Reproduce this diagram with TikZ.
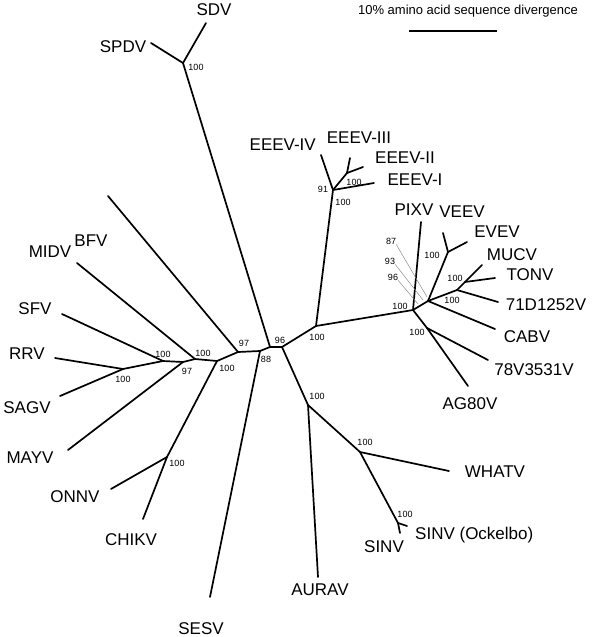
\documentclass[tikz,border=0pt]{standalone}
\usepackage{fontspec}
\setmainfont{Liberation Sans}
\usetikzlibrary{positioning}

\begin{document}
\begin{tikzpicture}[x=1pt, y=-1pt,
  branch/.style={line width=1.7pt, line cap=round, line join=round},
  leader/.style={black!45, line width=0.5pt},
  taxon/.style={inner sep=0pt, font=\fontsize{17}{17}\selectfont},
  boot/.style={inner sep=0pt, font=\fontsize{9}{9}\selectfont}]

\useasboundingbox (0,0) rectangle (592,637);

% Scale bar
\node[inner sep=0pt, font=\fontsize{13}{13}\selectfont, anchor=east] (scaletext) at (578,11) {10\% amino acid sequence divergence};
\coordinate (barL) at (409,31);
\coordinate (barR) at (497,31);
\draw[line width=1.2pt] (barL) -- (barR);

% Internal nodes
\coordinate (sd) at (183,63);
\coordinate (nA) at (238,352);
\coordinate (nB) at (260,351);
\coordinate (nC) at (270,347);
\coordinate (nD) at (282,347);
\coordinate (nE) at (217,361);
\coordinate (midv) at (195,359);
\coordinate (mayv) at (183,362);
\coordinate (sfv) at (163,361);
\coordinate (rrv) at (123,369);
\coordinate (chik) at (167,457);
\coordinate (ev) at (316,326);
\coordinate (eee) at (333,190);
\coordinate (eee2) at (347,173);
\coordinate (vee) at (413,310);
\coordinate (vc) at (428,301);
\coordinate (veev) at (448,252);
\coordinate (tm) at (457,290);
\coordinate (mt) at (465,282);
\coordinate (ag) at (427,328);
\coordinate (aur) at (308,405);
\coordinate (sin) at (360,452);
\coordinate (sin2) at (398,523);

% Tips
\coordinate (tSDV) at (206,23);
\coordinate (tSPDV) at (151,43);
\coordinate (tBFV) at (108,196);
\coordinate (tMIDV) at (77,263);
\coordinate (tSFV) at (62,314);
\coordinate (tRRV) at (55,358);
\coordinate (tSAGV) at (60,396);
\coordinate (tMAYV) at (68,450);
\coordinate (tONNV) at (111,489);
\coordinate (tCHIKV) at (143,519);
\coordinate (tSESV) at (210,597);
\coordinate (tAURAV) at (318,577);
\coordinate (tWHATV) at (449,471);
\coordinate (tSINV) at (400,533);
\coordinate (tOCK) at (407,526);
\coordinate (tAG) at (468,386);
\coordinate (t78V) at (488,360);
\coordinate (tCABV) at (495,329);
\coordinate (t71D) at (498,302);
\coordinate (tTONV) at (495,278);
\coordinate (tMUCV) at (482,265);
\coordinate (tEVEV) at (467,242);
\coordinate (tVEEV) at (443,233);
\coordinate (tPIXV) at (421,222);
\coordinate (tEI) at (374,183);
\coordinate (tEII) at (363,167);
\coordinate (tEIII) at (350,158);
\coordinate (tEIV) at (321,155);

% Backbone
\draw[branch] (nE) -- (nA) -- (nB) -- (nC) -- (nD) -- (ev);
\draw[branch] (nC) -- (sd);
\draw[branch] (nD) -- (aur);

% Semliki Forest complex side
\draw[branch] (sd) -- (tSDV);
\draw[branch] (sd) -- (tSPDV);
\draw[branch] (nA) -- (tBFV);
\draw[branch] (nB) -- (tSESV);
\draw[branch] (nE) -- (midv) -- (mayv) -- (sfv) -- (rrv);
\draw[branch] (midv) -- (tMIDV);
\draw[branch] (mayv) -- (tMAYV);
\draw[branch] (sfv) -- (tSFV);
\draw[branch] (rrv) -- (tRRV);
\draw[branch] (rrv) -- (tSAGV);
\draw[branch] (nE) -- (chik);
\draw[branch] (chik) -- (tONNV);
\draw[branch] (chik) -- (tCHIKV);

% EEEV
\draw[branch] (ev) -- (eee);
\draw[branch] (eee) -- (tEIV);
\draw[branch] (eee) -- (eee2);
\draw[branch] (eee2) -- (tEIII);
\draw[branch] (eee2) -- (tEII);
\draw[branch] (eee) -- (tEI);

% VEEV complex
\draw[branch] (ev) -- (vee);
\draw[branch] (vee) -- (tPIXV);
\draw[branch] (vee) -- (vc);
\draw[branch] (vc) -- (veev);
\draw[branch] (veev) -- (tVEEV);
\draw[branch] (veev) -- (tEVEV);
\draw[branch] (vc) -- (tm);
\draw[branch] (tm) -- (mt);
\draw[branch] (mt) -- (tMUCV);
\draw[branch] (mt) -- (tTONV);
\draw[branch] (tm) -- (t71D);
\draw[branch] (vc) -- (tCABV);
\draw[branch] (vee) -- (ag);
\draw[branch] (ag) -- (t78V);
\draw[branch] (ag) -- (tAG);

% Sindbis / Aura
\draw[branch] (aur) -- (tAURAV);
\draw[branch] (aur) -- (sin);
\draw[branch] (sin) -- (tWHATV);
\draw[branch] (sin) -- (sin2);
\draw[branch] (sin2) -- (tSINV);
\draw[branch] (sin2) -- (tOCK);

% Taxon labels
\node[taxon] (lSDV) at (214,10) {SDV};
\node[taxon] (lSPDV) at (123,47) {SPDV};
\node[taxon] (lBFV) at (91,241) {BFV};
\node[taxon] (lMIDV) at (50,252) {MIDV};
\node[taxon] (lSFV) at (35,309) {SFV};
\node[taxon] (lRRV) at (27,354) {RRV};
\node[taxon] (lSAGV) at (27,408) {SAGV};
\node[taxon] (lMAYV) at (30,458) {MAYV};
\node[taxon] (lONNV) at (75,497) {ONNV};
\node[taxon] (lCHIKV) at (131,540) {CHIKV};
\node[taxon] (lSESV) at (201,629) {SESV};
\node[taxon] (lAURAV) at (320,590) {AURAV};
\node[taxon] (lWHATV) at (495,472) {WHATV};
\node[taxon] (lSINV) at (384,547) {SINV};
\node[taxon, anchor=west] (lOCK) at (415,535) {SINV (Ockelbo)};
\node[taxon] (lAG) at (470,404) {AG80V};
\node[taxon] (l78V) at (534,370) {78V3531V};
\node[taxon] (lCABV) at (527,337) {CABV};
\node[taxon] (l71D) at (546,305) {71D1252V};
\node[taxon] (lTONV) at (530,275) {TONV};
\node[taxon] (lMUCV) at (512,255) {MUCV};
\node[taxon] (lEVEV) at (497,232) {EVEV};
\node[taxon] (lVEEV) at (462,212) {VEEV};
\node[taxon] (lPIXV) at (414,210) {PIXV};
\node[taxon] (lEI) at (415,180) {EEEV-I};
\node[taxon] (lEII) at (405,158) {EEEV-II};
\node[taxon] (lEIII) at (359,138) {EEEV-III};
\node[taxon, anchor=east] (lEIV) at (316,145) {EEEV-IV};

% Bootstrap values
\node[boot] (bsd) at (196,67) {100};
\node[boot] (bA) at (244,343) {97};
\node[boot] (bB) at (266,359) {88};
\node[boot] (bD) at (280,340) {96};
\node[boot] (bE) at (227,368) {100};
\node[boot] (bmidv) at (203,353) {100};
\node[boot] (bmayv) at (187,371) {97};
\node[boot] (bsfv) at (163,354) {100};
\node[boot] (brrv) at (123,379) {100};
\node[boot] (bchik) at (177,463) {100};
\node[boot] (bev) at (317,337) {100};
\node[boot] (beee) at (323,189) {91};
\node[boot] (beeeb) at (343,202) {100};
\node[boot] (beee2) at (354,182) {100};
\node[boot] (bvee) at (400,306) {100};
\node[boot] (bveev) at (432,255) {100};
\node[boot] (bmt) at (455,278) {100};
\node[boot] (btm) at (452,300) {100};
\node[boot] (bag) at (417,332) {100};
\node[boot] (baur) at (317,396) {100};
\node[boot] (bsin) at (365,442) {100};
\node[boot] (bsin2) at (405,514) {100};

% Values with leader lines
\node[boot] (b87) at (391,241) {87};
\node[boot] (b93) at (390,261) {93};
\node[boot] (b96) at (393,277) {96};
\coordinate (p87) at (427,297);
\coordinate (p93) at (423,300);
\coordinate (p96) at (418,304);
\draw[leader] (b87.south east) -- (p87);
\draw[leader] (b93.south east) -- (p93);
\draw[leader] (b96.south east) -- (p96);

\end{tikzpicture}
\end{document}
